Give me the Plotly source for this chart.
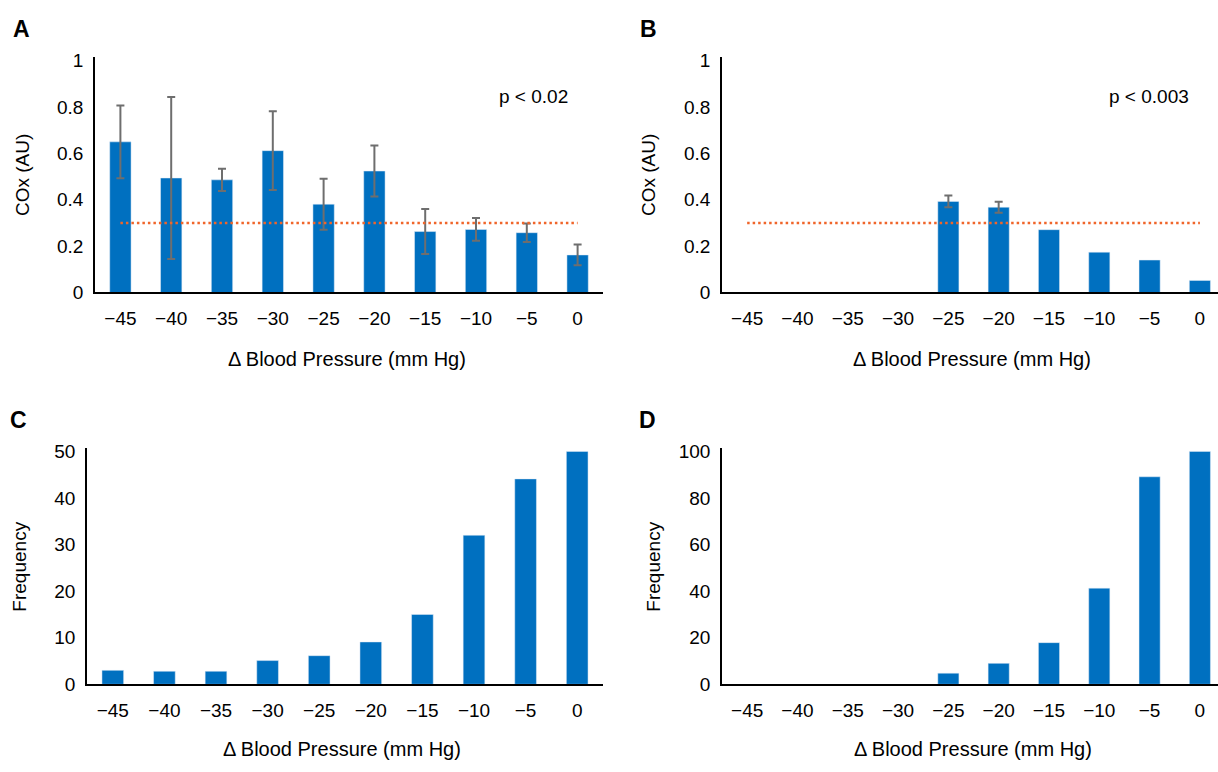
import plotly.graph_objects as go

W, H = 1218, 772

categories = ["\u221245", "\u221240", "\u221235", "\u221230", "\u221225",
              "\u221220", "\u221215", "\u221210", "\u22125", "0"]

cox_a = [0.65, 0.494, 0.486, 0.612, 0.381, 0.524, 0.263, 0.272, 0.258, 0.162]
err_a = [0.157, 0.35, 0.048, 0.17, 0.11, 0.11, 0.097, 0.049, 0.04, 0.045]

cox_b = [None, None, None, None, 0.393, 0.368, 0.271, 0.174, 0.140, 0.052]
err_b = [None, None, None, None, 0.025, 0.024, None, None, None, None]

freq_c = [3.0, 2.8, 2.8, 5.1, 6.15, 9.1, 15.0, 32.0, 44.1, 50.0]
freq_d = [None, None, None, None, 4.8, 9.0, 17.9, 41.3, 89.1, 100.0]

threshold = 0.3
p_a = "p < 0.02"
p_b = "p < 0.003"

BAR = "#0070C0"
ERR = "#6e6e6e"
ORANGE = "#F0652A"
FONT = "Liberation Sans, Arial, sans-serif"

xs = list(range(len(categories)))


def px_x(v):
    return v / W


def px_y(v):
    return 1 - v / H


fig = go.Figure()

# Panel A
fig.add_trace(go.Bar(x=xs, y=cox_a, marker_color=BAR, width=0.42,
                     error_y=dict(type="data", array=err_a, color=ERR, thickness=2, width=4),
                     xaxis="x", yaxis="y", showlegend=False))
fig.add_trace(go.Scatter(x=[xs[0], xs[-1]], y=[threshold, threshold], mode="lines",
                         line=dict(color=ORANGE, width=2.5, dash="2.5px,3px"),
                         xaxis="x", yaxis="y", showlegend=False))
# Panel B
fig.add_trace(go.Bar(x=xs, y=cox_b, marker_color=BAR, width=0.42,
                     xaxis="x2", yaxis="y2", showlegend=False))
bx = [xs[i] for i in range(len(xs)) if err_b[i] is not None]
by = [cox_b[i] for i in range(len(xs)) if err_b[i] is not None]
be = [err_b[i] for i in range(len(xs)) if err_b[i] is not None]
fig.add_trace(go.Scatter(x=bx, y=by, mode="markers", marker=dict(size=1, opacity=0),
                         error_y=dict(type="data", array=be, color=ERR, thickness=2, width=4),
                         xaxis="x2", yaxis="y2", showlegend=False))
fig.add_trace(go.Scatter(x=[xs[0], xs[-1]], y=[threshold, threshold], mode="lines",
                         line=dict(color=ORANGE, width=2.5, dash="2.5px,3px"),
                         xaxis="x2", yaxis="y2", showlegend=False))
# Panel C
fig.add_trace(go.Bar(x=xs, y=freq_c, marker_color=BAR, width=0.42,
                     xaxis="x3", yaxis="y3", showlegend=False))
# Panel D
fig.add_trace(go.Bar(x=xs, y=freq_d, marker_color=BAR, width=0.42,
                     xaxis="x4", yaxis="y4", showlegend=False))

tickfont = dict(family=FONT, size=19, color="#000")


def xaxis(anchor, d0, d1, r1):
    return dict(domain=[px_x(d0), px_x(d1)], anchor=anchor, range=[-0.5, r1],
                tickmode="array", tickvals=xs, ticktext=categories,
                showline=True, linecolor="#000", linewidth=1.5,
                ticks="outside", ticklen=8, tickcolor="rgba(0,0,0,0)",
                showgrid=False, zeroline=False, tickfont=tickfont, fixedrange=True)


def yaxis(anchor, top, bottom, rng, dtick):
    return dict(domain=[px_y(bottom), px_y(top)], anchor=anchor, range=rng, dtick=dtick,
                showline=True, linecolor="#000", linewidth=1.5,
                ticks="outside", ticklen=6, tickcolor="rgba(0,0,0,0)",
                showgrid=False, zeroline=False, tickfont=tickfont, fixedrange=True)


fig.update_layout(
    width=W, height=H, margin=dict(l=0, r=0, t=0, b=0),
    paper_bgcolor="white", plot_bgcolor="white",
    font=dict(family=FONT, color="#000"),
    xaxis=xaxis("y", 95, 603, 9.5),
    yaxis=yaxis("x", 51.7, 292.3, [0, 1.014], 0.2),
    xaxis2=xaxis("y2", 722, 1218, 9.36),
    yaxis2=yaxis("x2", 51.7, 292.3, [0, 1.014], 0.2),
    xaxis3=xaxis("y3", 87, 603, 9.5),
    yaxis3=yaxis("x3", 452, 693.5, [0, 50.63], 10),
    xaxis4=xaxis("y4", 722, 1218, 9.36),
    yaxis4=yaxis("x4", 452, 693.5, [0, 101.26], 20),
)

ann = []


def add_text(x, y, text, size=19, bold=False, angle=0):
    ann.append(dict(x=px_x(x), y=px_y(y), xref="paper", yref="paper",
                    text=("<b>%s</b>" % text) if bold else text, showarrow=False,
                    textangle=angle, xanchor="center", yanchor="middle",
                    font=dict(family=FONT, size=size, color="#000")))


add_text(21, 23, "A", 23, True)
add_text(648, 23, "B", 23, True)
add_text(18, 423, "C", 23, True)
add_text(647, 423, "D", 23, True)

add_text(533, 92, p_a, 19)
add_text(1149, 92, p_b, 19)

add_text(23, 172, "COx (AU)", 19, angle=-90)
add_text(649, 172, "COx (AU)", 19, angle=-90)
add_text(20, 573, "Frequency", 19, angle=-90)
add_text(654, 573, "Frequency", 19, angle=-90)

add_text(347, 360, "\u0394 Blood Pressure (mm Hg)", 20)
add_text(972, 360, "\u0394 Blood Pressure (mm Hg)", 20)
add_text(342, 760, "\u0394 Blood Pressure (mm Hg)", 20)
add_text(973, 760, "\u0394 Blood Pressure (mm Hg)", 20)

fig.update_layout(annotations=ann)

fig.write_html("out.html", config={"displayModeBar": False})
